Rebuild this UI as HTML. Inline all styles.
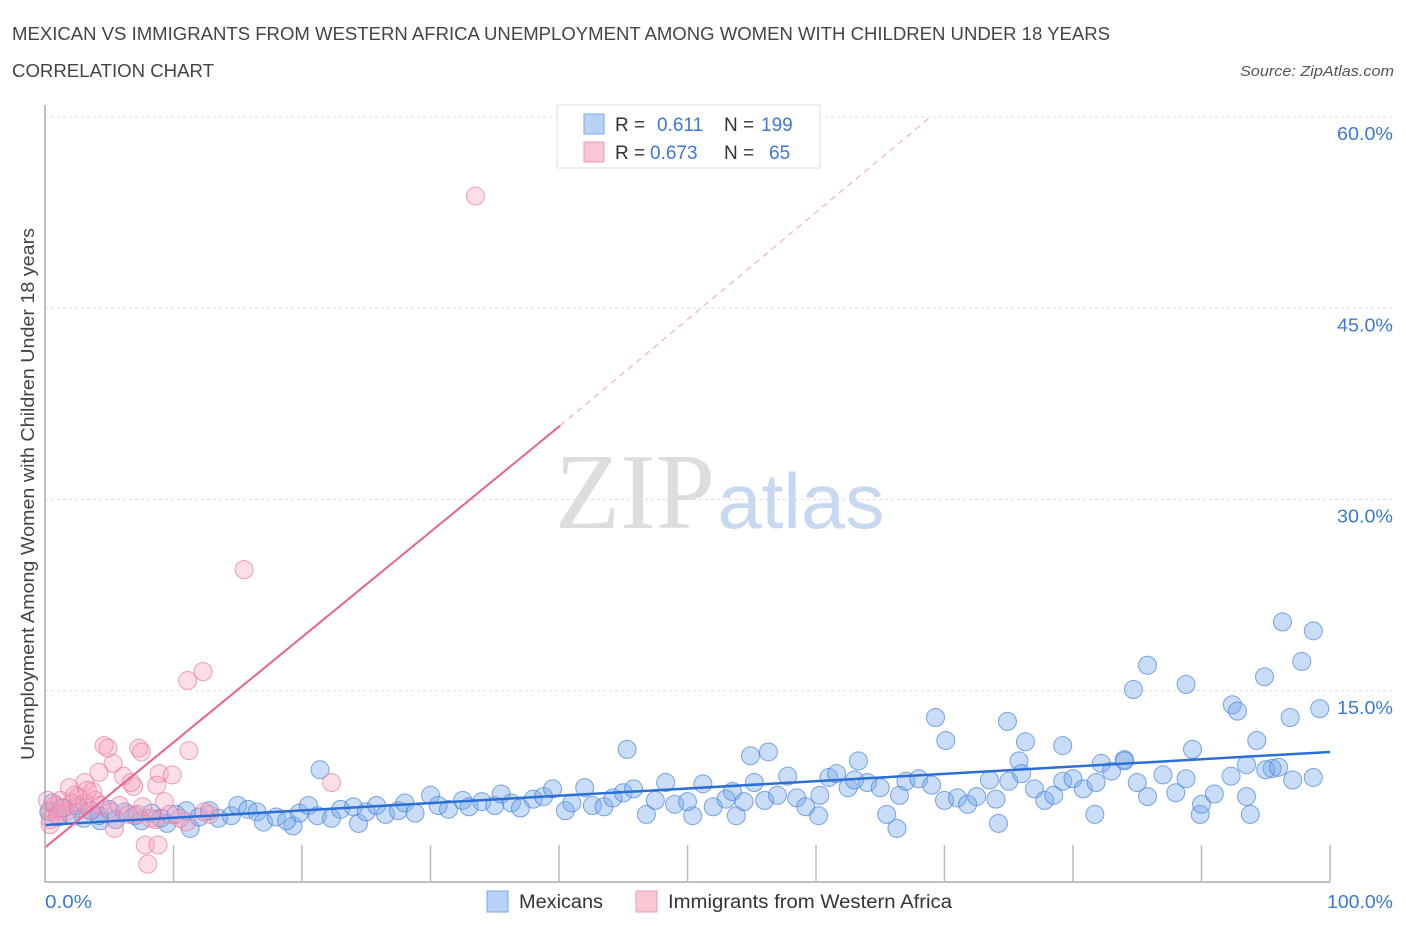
<!DOCTYPE html>
<html><head><meta charset="utf-8"><style>
body{margin:0;background:#fff;font-family:"Liberation Sans",sans-serif;}
svg text{font-family:"Liberation Sans",sans-serif;}
</style></head><body>
<svg id="chart" width="1406" height="930" xmlns="http://www.w3.org/2000/svg">
<text x="12" y="40" font-size="18" fill="#444" textLength="1098" lengthAdjust="spacingAndGlyphs">MEXICAN VS IMMIGRANTS FROM WESTERN AFRICA UNEMPLOYMENT AMONG WOMEN WITH CHILDREN UNDER 18 YEARS</text>
<text x="12" y="77" font-size="18" fill="#444" textLength="202" lengthAdjust="spacingAndGlyphs">CORRELATION CHART</text>
<text x="1394" y="76" font-size="15" fill="#555" font-style="italic" text-anchor="end" textLength="154" lengthAdjust="spacingAndGlyphs">Source: ZipAtlas.com</text>
<text transform="translate(34,494) rotate(-90)" font-size="18" fill="#444" text-anchor="middle" textLength="532" lengthAdjust="spacingAndGlyphs">Unemployment Among Women with Children Under 18 years</text>
<g id="grid"></g>
<text x="635" y="528" font-size="108" fill="#ddd" text-anchor="middle" style="font-family:'Liberation Serif',serif" textLength="160" lengthAdjust="spacingAndGlyphs">ZIP</text>
<text x="801" y="528" font-size="78" fill="#c8d8f0" text-anchor="middle" textLength="167" lengthAdjust="spacingAndGlyphs">atlas</text>
<g id="pts"></g>
<g id="lines"></g>
<line x1="45" y1="105" x2="45" y2="882" stroke="#aaa" stroke-width="1.5"/>
<line x1="45" y1="882" x2="1330" y2="882" stroke="#aaa" stroke-width="1.5"/>
<g id="ticks"></g>
<text x="45" y="908" font-size="18" fill="#3b78d8" textLength="47" lengthAdjust="spacingAndGlyphs">0.0%</text>
<text x="1393" y="908" font-size="18" fill="#3b78d8" text-anchor="end" textLength="66" lengthAdjust="spacingAndGlyphs">100.0%</text>
<g>
<rect x="557" y="105" width="263" height="63" fill="#fff" stroke="#ddd"/>
<rect x="584" y="114" width="20" height="20" fill="#b8d2f5" stroke="#7aa8e6"/>
<rect x="584" y="142" width="20" height="20" fill="#f9c6d4" stroke="#f09ab4"/>
<text x="615" y="131" font-size="19" fill="#333">R = </text><text x="657" y="131" font-size="19" fill="#3b78d8">0.611</text>
<text x="724" y="131" font-size="19" fill="#333">N = </text><text x="761" y="131" font-size="19" fill="#3b78d8">199</text>
<text x="615" y="159" font-size="19" fill="#333">R = </text><text x="650" y="159" font-size="19" fill="#3b78d8">0.673</text>
<text x="724" y="159" font-size="19" fill="#333">N = </text><text x="769" y="159" font-size="19" fill="#3b78d8">65</text>
</g>
<g>
<rect x="487" y="891" width="21" height="21" fill="#b8d2f5" stroke="#7aa8e6"/>
<text x="519" y="908" font-size="19" fill="#333" textLength="84" lengthAdjust="spacingAndGlyphs">Mexicans</text>
<rect x="636" y="891" width="21" height="21" fill="#f9c6d4" stroke="#f09ab4"/>
<text x="668" y="908" font-size="19" fill="#333" textLength="284" lengthAdjust="spacingAndGlyphs">Immigrants from Western Africa</text>
</g>
</svg>
<script>
const yTicks=[15,30,45,60];
const yTickLabels=["15.0%","30.0%","45.0%","60.0%"];
const xTicks=[0,10,20,30,40,50,60,70,80,90,100];
const blueX=[96.3,98.7,97.8,85.8,84.7,88.8,94.9,92.4,92.8,96.9,99.2,69.3,74.9,70.1,76.3,79.2,94.3,89.3,54.9,56.3,45.3,63.3,84.0,82.2,75.8,21.4,95.5,93.5,98.7,97.1,66.3,74.2,11.3,24.4,19.3,81.7,89.9,93.8,60.2,53.8,50.4,4.3,
0.3,0.6,1,1.5,2,2.5,3,3.6,4.2,5,5.5,6.2,7,7.5,8.3,9,9.5,10.2,11,12,12.8,13.5,14.5,15,15.8,16.5,17,18,18.8,19.8,20.5,21.2,22.3,23,24,25,25.8,26.5,27.5,28,28.8,30,30.6,31.4,32.5,33,34,35,35.5,36.3,37,38,38.8,39.5,40.5,41,42,42.6,43.5,44.2,45,45.8,46.8,47.5,48.3,49,50,51.2,52,53,53.5,54.4,55.2,56,57,57.8,58.5,59.2,60.3,61,61.6,62.5,63,64,65,65.5,66.5,67,68,69,70,71,71.8,72.5,73.5,74,75,76,77,77.8,78.5,79.2,80,80.8,81.8,83,84,85,85.8,87,88,88.8,90,91,92.3,93.5,95,96];
const blueY=[20.4,19.7,17.3,17.0,15.1,15.5,16.1,13.9,13.4,12.9,13.6,12.9,12.6,11.1,11.0,10.7,11.1,10.4,9.9,10.2,10.4,9.5,9.6,9.3,9.5,8.8,8.9,9.2,8.2,8.0,4.2,4.6,4.2,4.6,4.4,5.3,5.3,5.3,5.2,5.2,5.2,4.8,
5.5,6.2,5.1,5.8,5.3,6.0,5.0,5.6,5.2,5.7,4.9,5.5,5.2,4.8,5.4,5.0,4.6,5.3,5.6,5.1,5.6,5.0,5.2,6.0,5.7,5.5,4.7,5.1,4.8,5.4,6.0,5.2,5.0,5.7,5.9,5.5,6.0,5.3,5.6,6.2,5.4,6.8,6.0,5.7,6.4,5.9,6.3,6.0,6.9,6.2,5.8,6.5,6.7,7.3,5.6,6.2,7.4,6.0,5.9,6.6,7.0,7.3,5.3,6.4,7.8,6.1,6.3,7.7,5.9,6.5,7.1,6.3,7.8,6.4,6.8,8.3,6.6,5.9,6.8,8.2,8.5,7.4,8.0,7.8,7.4,5.3,6.8,7.9,8.1,7.6,6.4,6.6,6.1,6.7,8.0,6.5,7.9,8.5,7.3,6.4,6.8,7.9,8.1,7.3,7.8,8.7,9.5,7.8,6.7,8.4,7.0,8.1,6.1,6.9,8.3,6.7,8.8,9.0];
const pinkX=[33.5,15.5,12.3,11.1,4.6,4.9,7.3,7.5,11.2,5.3,6.1,4.2,8.9,9.9,6.9,6.7,22.3,8.7,3.1,1.9,3.7,2.6,9.3,7.6,12.8,11.0,8.6,5.4,7.8,8.8,8.0,0.4,0.8,1.2,1.6,2.1,2.6,3.1,3.5,3.9,4.3,5.1,5.8,6.5,0.4,1.0,0.2,9.7,10.5,12.4,7.2,8.2,2.3,3.3,0.4,1.3];
const pinkY=[53.8,24.5,16.5,15.8,10.7,10.5,10.5,10.2,10.3,9.3,8.3,8.6,8.5,8.4,7.5,7.8,7.8,7.6,7.8,7.4,7.1,6.7,6.3,5.9,5.3,4.7,4.9,4.2,2.9,2.9,1.4,5.6,6.0,6.4,5.5,6.2,5.8,6.2,5.6,6.4,6.0,5.5,6.0,5.3,4.9,5.3,6.4,5.3,5.0,5.5,5.3,5.0,6.8,7.2,4.5,5.8];
const blueTrend=[[0,4.47],[100,10.2]];
const pinkTrend=[[0,2.7],[40.1,35.8]];
const pinkTrendExt=[[40.1,35.8],[68.9,60]];
const NS="http://www.w3.org/2000/svg";
function xs(v){return 45+v*12.85;}
function ys(v){return 882-v*12.75;}
function mk(tag,attrs,parent){const e=document.createElementNS(NS,tag);for(const k in attrs)e.setAttribute(k,attrs[k]);parent.appendChild(e);return e;}
const grid=document.getElementById('grid');
yTicks.forEach((t,i)=>{
 const l=mk('line',{x1:45,x2:1395,y1:ys(t),y2:ys(t),stroke:'#ddd','stroke-dasharray':'3,3'},grid);
 
 
 const tx=mk('text',{x:1393,y:ys(t)+23,'font-size':18,fill:'#3b78d8','text-anchor':'end',textLength:56,lengthAdjust:'spacingAndGlyphs'},grid);
 tx.textContent=yTickLabels[i];
 
 
});
const tk=document.getElementById('ticks');
xTicks.forEach(t=>{
 const l=mk('line',{x1:xs(t),x2:xs(t),y1:845,y2:882,stroke:'#bbb','stroke-width':1.5},tk);
 
 
});
const pts=document.getElementById('pts');
blueX.forEach((x,i)=>{
 const c=mk('circle',{cx:xs(x),cy:ys(blueY[i]),r:9,fill:'rgba(120,170,235,0.4)',stroke:'rgba(70,130,220,0.7)','stroke-width':1},pts);
 
 
});
pinkX.forEach((x,i)=>{
 const c=mk('circle',{cx:xs(x),cy:ys(pinkY[i]),r:9,fill:'rgba(245,160,190,0.35)',stroke:'rgba(235,120,160,0.7)','stroke-width':1},pts);
 
 
});
const ln=document.getElementById('lines');
const b=mk('line',{x1:xs(blueTrend[0][0]),y1:ys(blueTrend[0][1]),x2:xs(blueTrend[1][0]),y2:ys(blueTrend[1][1]),stroke:'#2a6fd6','stroke-width':2.5},ln);


const p=mk('line',{x1:xs(pinkTrend[0][0]),y1:ys(pinkTrend[0][1]),x2:xs(pinkTrend[1][0]),y2:ys(pinkTrend[1][1]),stroke:'#e8628e','stroke-width':2},ln);


const pe=mk('line',{x1:xs(pinkTrendExt[0][0]),y1:ys(pinkTrendExt[0][1]),x2:xs(pinkTrendExt[1][0]),y2:ys(pinkTrendExt[1][1]),stroke:'#eea0b8','stroke-width':1,'stroke-dasharray':'6,5'},ln);


</script>
</body></html>
